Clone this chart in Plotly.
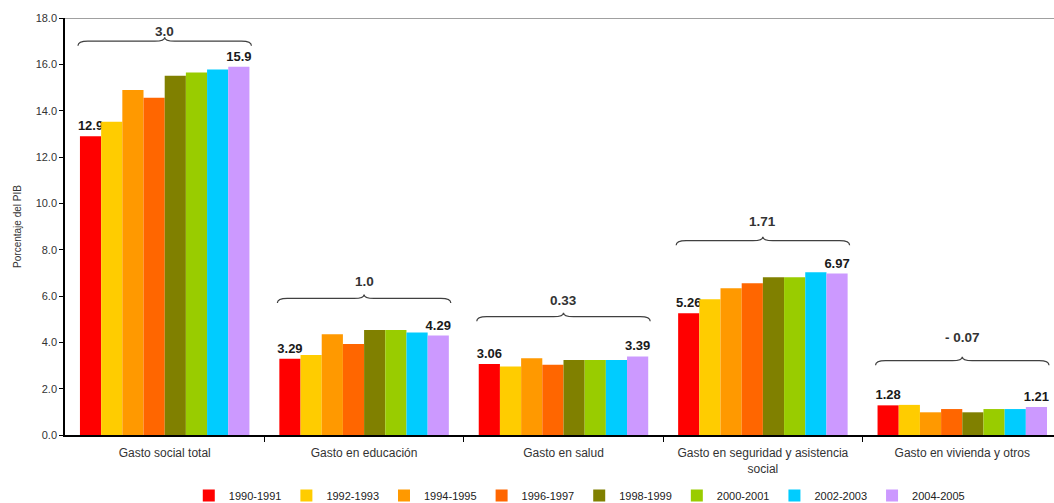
import plotly.graph_objects as go

categories = ["Gasto social total", "Gasto en educación", "Gasto en salud",
              "Gasto en seguridad y asistencia<br>social", "Gasto en vivienda y otros"]
periods = ["1990-1991", "1992-1993", "1994-1995", "1996-1997",
           "1998-1999", "2000-2001", "2002-2003", "2004-2005"]

v_1990 = [12.9, 3.29, 3.06, 5.26, 1.28]
v_1992 = [13.52, 3.45, 2.96, 5.86, 1.30]
v_1994 = [14.89, 4.35, 3.31, 6.33, 0.98]
v_1996 = [14.56, 3.93, 3.03, 6.55, 1.12]
v_1998 = [15.51, 4.53, 3.24, 6.81, 0.98]
v_2000 = [15.65, 4.53, 3.24, 6.81, 1.12]
v_2002 = [15.78, 4.42, 3.24, 7.03, 1.12]
v_2004 = [15.9, 4.29, 3.39, 6.97, 1.21]
series = [v_1990, v_1992, v_1994, v_1996, v_1998, v_2000, v_2002, v_2004]

first_labels = ["12.9", "3.29", "3.06", "5.26", "1.28"]
last_labels = ["15.9", "4.29", "3.39", "6.97", "1.21"]
change_labels = ["3.0", "1.0", "0.33", "1.71", "- 0.07"]

colors = ["#FF0000", "#FFCC00", "#FF9900", "#FF6600",
          "#808000", "#99CC00", "#00CCFF", "#CC99FF"]

# layout constants for the braces (data units)
brace_y = [17.0, 5.90, 5.11, 8.39, 3.21]
brace_label_y = [17.41, 6.62, 5.80, 9.21, 4.19]
brace_half = 0.435

FONT = "Liberation Sans, Arial, sans-serif"
xs = list(range(len(categories)))

fig = go.Figure()
for i, (name, vals, col) in enumerate(zip(periods, series, colors)):
    if i == 0:
        text = first_labels
    elif i == len(periods) - 1:
        text = last_labels
    else:
        text = None
    fig.add_trace(go.Bar(
        x=xs, y=vals, name=name, marker=dict(color=col, line=dict(width=0)),
        text=text, textposition="outside" if text else None,
        textfont=dict(family=FONT, size=13, color="#1a1a1a", weight="bold"),
        constraintext="none", cliponaxis=False,
    ))

shapes = []
annotations = []
for i, x in enumerate(xs):
    x0, x1, xm, y = x - brace_half, x + brace_half, x, brace_y[i]
    d_end, d_mid, dx = 0.2, 0.17, 0.05
    path = (f"M {x0},{y - d_end} Q {x0},{y} {x0 + dx},{y} "
            f"L {xm - dx},{y} Q {xm},{y} {xm},{y + d_mid} "
            f"Q {xm},{y} {xm + dx},{y} L {x1 - dx},{y} Q {x1},{y} {x1},{y - d_end}")
    shapes.append(dict(type="path", path=path, xref="x", yref="y",
                       line=dict(color="#404040", width=1.2)))
    annotations.append(dict(x=xm, y=brace_label_y[i], xref="x", yref="y",
                            text=change_labels[i], showarrow=False,
                            font=dict(family=FONT, size=13.5, color="#333333", weight="bold")))

shapes.append(dict(type="line", xref="paper", yref="y", x0=0, x1=1, y0=18, y1=18,
                   line=dict(color="#A0A0A0", width=2), layer="below"))

fig.update_layout(
    width=1054, height=503,
    margin=dict(l=65, r=0, t=18, b=68, autoexpand=False),
    paper_bgcolor="white", plot_bgcolor="white",
    barmode="group", bargap=0.15, bargroupgap=0,
    font=dict(family=FONT, size=11, color="#333333"),
    shapes=shapes, annotations=annotations,
    showlegend=True,
    legend=dict(orientation="h", x=0.52, xanchor="center", y=-0.145, yanchor="middle",
                font=dict(family=FONT, size=11, color="#222222"),
                itemwidth=30, traceorder="normal", tracegroupgap=0),
    xaxis=dict(range=[-0.5, 4.46], tickmode="array", tickvals=xs, ticktext=categories,
               showline=True, linecolor="black", linewidth=1.5, showgrid=False,
               zeroline=False, ticks="", ticklabelstandoff=6,
               tickfont=dict(family=FONT, size=12, color="#333333"),
               minor=dict(tickmode="array", tickvals=[0.5, 1.5, 2.5, 3.5], ticks="outside",
                          ticklen=5, tickcolor="black", tickwidth=1, showgrid=False)),
    yaxis=dict(range=[0, 18], dtick=2, tickformat=".1f", showline=True, linecolor="black",
               linewidth=1.5, ticks="outside", ticklen=4, tickcolor="black", showgrid=False,
               zeroline=False, tickfont=dict(family=FONT, size=11, color="#333333"),
               title=dict(text="Porcentaje del PIB", standoff=12,
                          font=dict(family=FONT, size=10, color="#333333"))),
)

fig.write_html("out.html")
